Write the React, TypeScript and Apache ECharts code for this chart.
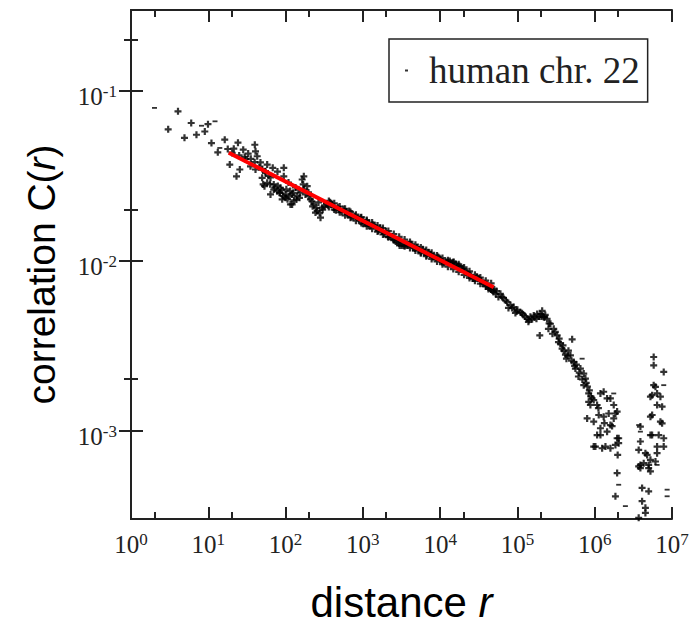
import React, { useEffect, useRef } from "react";
import * as echarts from "echarts";

// Axis ranges (real units)
const xRange = [1, 1e7];
const yRange = [3e-4, 0.3];
// Decade tick exponents and minor ticks at 2 x 10^n
const xTickExponents = [0, 1, 2, 3, 4, 5, 6, 7];
const yTickExponents = [-3, -2, -1];
const xMinorTickValues = [2, 20, 200, 2000, 20000, 200000, 2000000];
const yMinorTickValues = [0.002, 0.02, 0.2];

// Data, as [log10 r, log10 C(r)]
const shortRange = [
  [0.608, -1.12], [0.481, -1.226], [0.779, -1.189], [0.996, -1.196], [0.692, -1.276], [0.847, -1.258],
  [0.955, -1.239], [1.041, -1.307], [1.213, -1.287], [1.384, -1.305], [1.602, -1.317], [1.123, -1.362],
  [1.252, -1.342], [1.309, -1.365], [1.452, -1.346], [1.516, -1.369], [1.611, -1.356], [1.278, -1.434],
  [1.408, -1.463], [1.365, -1.503], [1.481, -1.401], [1.546, -1.444], [1.611, -1.463], [1.675, -1.421],
  [1.74, -1.473], [1.697, -1.512], [1.727, -1.561], [1.633, -1.385], [1.33, -1.34], [1.4, -1.38],
  [1.47, -1.39], [1.55, -1.4], [1.6, -1.42], [1.66, -1.45], [1.7, -1.46], [1.78, -1.5],
];
const clusterRange = [
  [1.74, -1.483], [1.847, -1.551], [1.891, -1.591], [1.934, -1.571], [1.999, -1.61], [2.085, -1.61],
  [2.085, -1.669], [2.15, -1.62], [2.236, -1.503], [2.228, -1.551], [2.322, -1.639], [2.365, -1.669],
  [2.409, -1.708], [2.452, -1.747], [2.387, -1.717], [2.474, -1.688], [1.71, -1.551], [1.762, -1.541],
  [1.977, -1.503], [2.215, -1.522], [1.847, -1.581], [1.956, -1.639], [2.063, -1.669], [1.977, -1.453],
  [1.805, -1.51], [2.038, -1.54], [2.128, -1.569], [2.28, -1.561], [2.296, -1.598], [2.426, -1.657],
  [2.529, -1.663], [1.762, -1.434], [1.834, -1.453], [1.895, -1.475], [2.167, -1.581], [2.025, -1.639],
  [1.805, -1.61], [2.257, -1.61], [1.92, -1.6], [2.0, -1.63], [2.11, -1.645], [2.19, -1.6],
  [2.35, -1.68], [2.44, -1.72], [1.95, -1.585], [2.06, -1.59], [1.8, -1.55], [1.86, -1.57],
  [1.9, -1.56], [1.93, -1.6], [1.97, -1.62], [2.01, -1.58], [2.05, -1.62], [2.1, -1.6],
  [2.14, -1.64], [2.18, -1.63], [2.24, -1.58], [2.3, -1.62], [2.34, -1.65], [2.4, -1.69],
  [2.48, -1.7], [2.5, -1.68],
];
const bandUpper = [
  [2.55, -1.674], [2.6, -1.668], [2.65, -1.703], [2.7, -1.697], [2.75, -1.696], [2.8, -1.726],
  [2.85, -1.743], [2.9, -1.737], [2.95, -1.754], [3.0, -1.783], [3.05, -1.766], [3.1, -1.795],
  [3.15, -1.795], [3.2, -1.824], [3.25, -1.829], [3.3, -1.829], [3.35, -1.858], [3.4, -1.876],
  [3.45, -1.893], [3.5, -1.911], [3.55, -1.91], [3.6, -1.904], [3.65, -1.922], [3.7, -1.922],
  [3.75, -1.951], [3.8, -1.95], [3.85, -1.95], [3.9, -1.979], [3.95, -1.985], [4.0, -1.991],
  [4.05, -2.014], [4.1, -2.008], [4.15, -2.014], [4.2, -2.019], [4.25, -2.031], [4.3, -2.048],
  [4.35, -2.066], [4.4, -2.089], [4.45, -2.106], [4.5, -2.106], [4.55, -2.135], [4.6, -2.141],
  [4.65, -2.164], [4.7, -2.17],
];
const bandLower = [
  [2.575, -1.656], [2.625, -1.685], [2.675, -1.685], [2.725, -1.714], [2.775, -1.714], [2.825, -1.708],
  [2.875, -1.743], [2.925, -1.749], [2.975, -1.748], [3.025, -1.778], [3.075, -1.795], [3.125, -1.789],
  [3.175, -1.806], [3.225, -1.806], [3.275, -1.841], [3.325, -1.858], [3.375, -1.858], [3.425, -1.887],
  [3.475, -1.911], [3.525, -1.911], [3.575, -1.91], [3.625, -1.904], [3.675, -1.928], [3.725, -1.933],
  [3.775, -1.933], [3.825, -1.968], [3.875, -1.962], [3.925, -1.979], [3.975, -1.979], [4.025, -2.008],
  [4.075, -2.008], [4.125, -2.002], [4.175, -2.008], [4.225, -2.031], [4.275, -2.048], [4.325, -2.066],
  [4.375, -2.089], [4.425, -2.106], [4.475, -2.095], [4.525, -2.118], [4.575, -2.135], [4.625, -2.159],
  [4.675, -2.176],
];
const bandAbove = [
  [2.56, -1.648], [2.63, -1.662], [2.7, -1.681], [2.77, -1.695], [2.84, -1.713], [2.91, -1.729],
  [2.98, -1.744], [3.05, -1.761], [3.12, -1.776], [3.19, -1.793], [3.26, -1.808], [3.33, -1.826],
  [3.4, -1.843], [3.47, -1.86], [3.54, -1.876], [3.61, -1.89], [3.68, -1.906], [3.75, -1.922],
  [3.82, -1.938], [3.89, -1.954], [3.96, -1.97], [4.03, -1.985], [4.1, -1.998], [4.17, -2.01],
  [4.24, -2.022], [4.31, -2.04], [4.38, -2.063], [4.45, -2.084], [4.52, -2.1], [4.59, -2.118],
  [4.66, -2.134],
];
const bandBelow = [
  [2.56, -1.684], [2.63, -1.699], [2.7, -1.715], [2.77, -1.733], [2.84, -1.747], [2.91, -1.765],
  [2.98, -1.779], [3.05, -1.797], [3.12, -1.812], [3.19, -1.829], [3.26, -1.846], [3.33, -1.862],
  [3.4, -1.88], [3.47, -1.898], [3.54, -1.915], [3.61, -1.925], [3.68, -1.941], [3.75, -1.957],
  [3.82, -1.974], [3.89, -1.99], [3.96, -2.005], [4.03, -2.021], [4.1, -2.036], [4.17, -2.05],
  [4.24, -2.066], [4.31, -2.084], [4.38, -2.102], [4.45, -2.119], [4.52, -2.136], [4.59, -2.152],
  [4.66, -2.17],
];
const tailRange = [
  [4.625, -2.167], [4.69, -2.185], [4.729, -2.179], [4.754, -2.214], [4.78, -2.196], [4.819, -2.22],
  [4.867, -2.245], [4.884, -2.279], [4.91, -2.261], [4.952, -2.274], [4.974, -2.308], [5.0, -2.29],
  [5.039, -2.304], [5.078, -2.32], [5.126, -2.343], [5.142, -2.361], [5.168, -2.331], [5.211, -2.324],
  [5.246, -2.343], [5.255, -2.314], [5.298, -2.314], [5.32, -2.296], [5.336, -2.331], [5.384, -2.343],
  [5.401, -2.402], [5.427, -2.372], [5.453, -2.431], [5.47, -2.402], [5.514, -2.441], [5.531, -2.48],
  [5.556, -2.49], [5.578, -2.519], [5.621, -2.554], [5.634, -2.578], [5.66, -2.531], [5.686, -2.558],
  [5.728, -2.597], [5.75, -2.636], [5.763, -2.613], [5.789, -2.683], [5.815, -2.636], [5.858, -2.666],
  [5.88, -2.695], [5.858, -2.734], [5.906, -2.742], [5.922, -2.783], [5.966, -2.812], [5.289, -2.441],
  [5.708, -2.464], [5.19, -2.345], [5.28, -2.33], [5.36, -2.32], [5.6, -2.53], [5.7, -2.59],
  [4.72, -2.195], [4.8, -2.215], [4.85, -2.235], [4.93, -2.28], [4.99, -2.3], [5.06, -2.31],
  [5.1, -2.33], [5.15, -2.35], [5.22, -2.335], [5.31, -2.33], [5.35, -2.335], [5.41, -2.37],
  [5.49, -2.42], [5.54, -2.46], [5.59, -2.5], [5.65, -2.56], [5.74, -2.62], [5.8, -2.66],
  [5.84, -2.7], [5.89, -2.72], [5.95, -2.8],
];
const dropRange = [
  [5.902, -2.93], [5.987, -2.949], [6.074, -2.988], [6.16, -3.008], [6.203, -2.969], [6.246, -2.93],
  [6.031, -3.028], [6.009, -3.096], [6.096, -3.106], [6.203, -3.106], [6.29, -3.047], [6.31, -3.076],
  [6.297, -3.145], [6.29, -3.252], [6.268, -3.389], [6.116, -2.773], [6.203, -2.812], [5.987, -2.822],
  [6.031, -2.851], [6.074, -2.783], [6.16, -2.812], [6.246, -2.851], [6.29, -2.89], [5.944, -2.851],
  [6.052, -2.91], [6.116, -2.92], [6.181, -2.901], [6.268, -2.901], [6.225, -2.975], [6.074, -3.028],
  [5.987, -3.096], [6.139, -3.096], [6.268, -3.086], [6.31, -3.047], [5.922, -2.832], [5.931, -2.765],
  [6.048, -2.869], [6.125, -2.958],
];
const farRange = [
  [6.591, -3.066], [6.569, -3.116], [6.656, -3.135], [6.634, -3.194], [6.591, -3.223], [6.698, -3.223],
  [6.721, -3.242], [6.613, -3.34], [6.698, -3.36], [6.613, -3.418], [6.656, -3.457], [6.656, -3.487],
  [6.569, -3.516], [6.763, -2.568], [6.763, -2.617], [6.893, -2.656], [6.763, -2.734], [6.807, -2.783],
  [6.721, -2.802], [6.85, -2.802], [6.807, -2.851], [6.872, -2.861], [6.743, -2.91], [6.872, -2.959],
  [6.828, -3.028], [6.743, -3.028], [6.893, -3.047], [6.807, -3.096], [6.893, -3.096], [6.721, -3.174],
  [6.807, -3.135], [6.786, -3.184], [6.698, -3.204], [6.591, -2.978], [6.721, -2.92], [6.85, -2.949],
  [6.721, -3.028], [6.678, -3.145], [6.591, -3.204], [6.569, -3.213], [6.743, -2.793], [6.786, -2.744],
];
const dashPoints = [
  [0.304, -1.1], [0.912, -1.205], [1.087, -1.179], [1.149, -1.336], [5.837, -2.578], [6.246, -2.783],
  [6.31, -3.321], [6.397, -3.447], [6.569, -2.969], [6.591, -3.008], [6.807, -3.204], [6.893, -2.734],
  [6.937, -3.35], [6.937, -3.389],
];
// Power-law fit end points (real units)
const fitDistance = [18.4, 49350];
const fitCorrelation = [0.0432, 0.00697];

const seriesName = "human chr. 22";

const PLUS = "path://M2.4,0H4.6V2.4H7V4.6H4.6V7H2.4V4.6H0V2.4H2.4Z";
const DASH = "path://M0,0H5V1.8H0Z";
const AXIS_COLOR = "#222";

export default function App() {
  const ref = useRef<HTMLDivElement>(null);

  useEffect(() => {
    if (!ref.current) return;
    const chart = echarts.init(ref.current, undefined, { renderer: "svg" });

    const lg = Math.log10;
    const xMin = lg(xRange[0]);
    const xMax = lg(xRange[1]);
    const yMin = lg(yRange[0]);
    const yMax = lg(yRange[1]);
    const xMinor = xMinorTickValues.map(lg);
    const yMinor = yMinorTickValues.map(lg);

    const labelRich = {
      b: { fontSize: 25, fontFamily: "Liberation Serif", color: AXIS_COLOR },
      s: { fontSize: 17, fontFamily: "Liberation Serif", color: AXIS_COLOR, padding: [0, 0, 10, 0] },
    };
    const fmt = (v: number) => `{b|10}{s|${Math.round(v)}}`;

    const line = { show: true, lineStyle: { color: AXIS_COLOR, width: 2 } };
    const noLine = { show: false };

    const mkX = (position: string, major: boolean, withLabel: boolean, extra: any = {}) => ({
      type: "value",
      position,
      offset: 0,
      min: xMin,
      max: xMax,
      axisLine: major ? line : noLine,
      axisTick: {
        show: true,
        inside: true,
        length: major ? 12 : 7,
        lineStyle: { color: AXIS_COLOR, width: 2 },
        customValues: major ? xTickExponents : xMinor,
      },
      axisLabel: withLabel
        ? {
            show: true,
            customValues: xTickExponents,
            formatter: fmt,
            rich: labelRich,
            margin: 12,
            fontSize: 25,
            fontFamily: "Liberation Serif",
          }
        : { show: false },
      splitLine: { show: false },
      ...extra,
    });
    const mkY = (position: string, major: boolean, withLabel: boolean, extra: any = {}) => ({
      type: "value",
      position,
      offset: 0,
      min: yMin,
      max: yMax,
      axisLine: major ? line : noLine,
      axisTick: {
        show: true,
        inside: true,
        length: major ? 12 : 7,
        lineStyle: { color: AXIS_COLOR, width: 2 },
        customValues: major ? yTickExponents : yMinor,
      },
      axisLabel: withLabel
        ? {
            show: true,
            customValues: yTickExponents,
            formatter: fmt,
            rich: labelRich,
            margin: 14,
            padding: [12, 0, 0, 0],
            fontSize: 25,
            fontFamily: "Liberation Serif",
          }
        : { show: false },
      splitLine: { show: false },
      ...extra,
    });

    const plusData = [
      ...shortRange,
      ...clusterRange,
      ...bandUpper,
      ...bandLower,
      ...bandAbove,
      ...bandBelow,
      ...tailRange,
      ...dropRange,
      ...farRange,
    ];

    const titleStyle = (size: number, padding?: number[]) => ({
      fontFamily: "Liberation Sans",
      fontSize: size,
      color: "#000",
      ...(padding ? { padding } : {}),
      rich: { i: { fontFamily: "Liberation Sans", fontSize: size, fontStyle: "italic", color: "#000" } },
    });

    const option: any = {
      animation: false,
      backgroundColor: "#fff",
      grid: { left: 131, right: 25, top: 10, bottom: 107, containLabel: false },
      legend: {
        data: [{ name: seriesName, icon: "rect" }],
        left: 389,
        top: 39,
        itemWidth: 3,
        itemHeight: 2,
        padding: [13, 8, 13, 16],
        borderColor: AXIS_COLOR,
        borderWidth: 1.5,
        selectedMode: false,
        textStyle: {
          fontFamily: "Liberation Serif",
          fontSize: 37,
          color: AXIS_COLOR,
          padding: [0, 0, 0, 16],
        },
      },
      xAxis: [
        mkX("bottom", true, true, {
          name: "distance {i|r}",
          nameLocation: "middle",
          nameGap: 62,
          nameTextStyle: titleStyle(42),
        }),
        mkX("bottom", false, false),
        mkX("top", true, false),
        mkX("top", false, false),
      ],
      yAxis: [
        mkY("left", true, true, {
          name: "correlation C({i|r})",
          nameLocation: "middle",
          nameGap: 70,
          nameRotate: 90,
          nameTextStyle: titleStyle(39, [0, 20, 0, 0]),
        }),
        mkY("left", false, false),
        mkY("right", true, false),
        mkY("right", false, false),
      ],
      series: [
        {
          type: "scatter",
          name: seriesName,
          xAxisIndex: 0,
          yAxisIndex: 0,
          data: plusData,
          symbol: PLUS,
          symbolSize: 7,
          itemStyle: { color: "#000" },
          z: 2,
        },
        {
          type: "scatter",
          name: seriesName,
          xAxisIndex: 0,
          yAxisIndex: 0,
          data: dashPoints,
          symbol: DASH,
          symbolSize: [5, 1.8],
          itemStyle: { color: "#000" },
          z: 2,
        },
        {
          type: "line",
          name: "power-law fit",
          xAxisIndex: 0,
          yAxisIndex: 0,
          data: fitDistance.map((r, i) => [lg(r), lg(fitCorrelation[i])]),
          symbol: "none",
          showSymbol: false,
          lineStyle: { color: "#ff0000", width: 4 },
          z: 3,
        },
      ],
    };

    chart.setOption(option);
    return () => chart.dispose();
  }, []);

  return (
    <div
      ref={ref}
      style={{ position: "fixed", left: 0, top: 0, width: 697, height: 628, background: "#fff" }}
    />
  );
}
